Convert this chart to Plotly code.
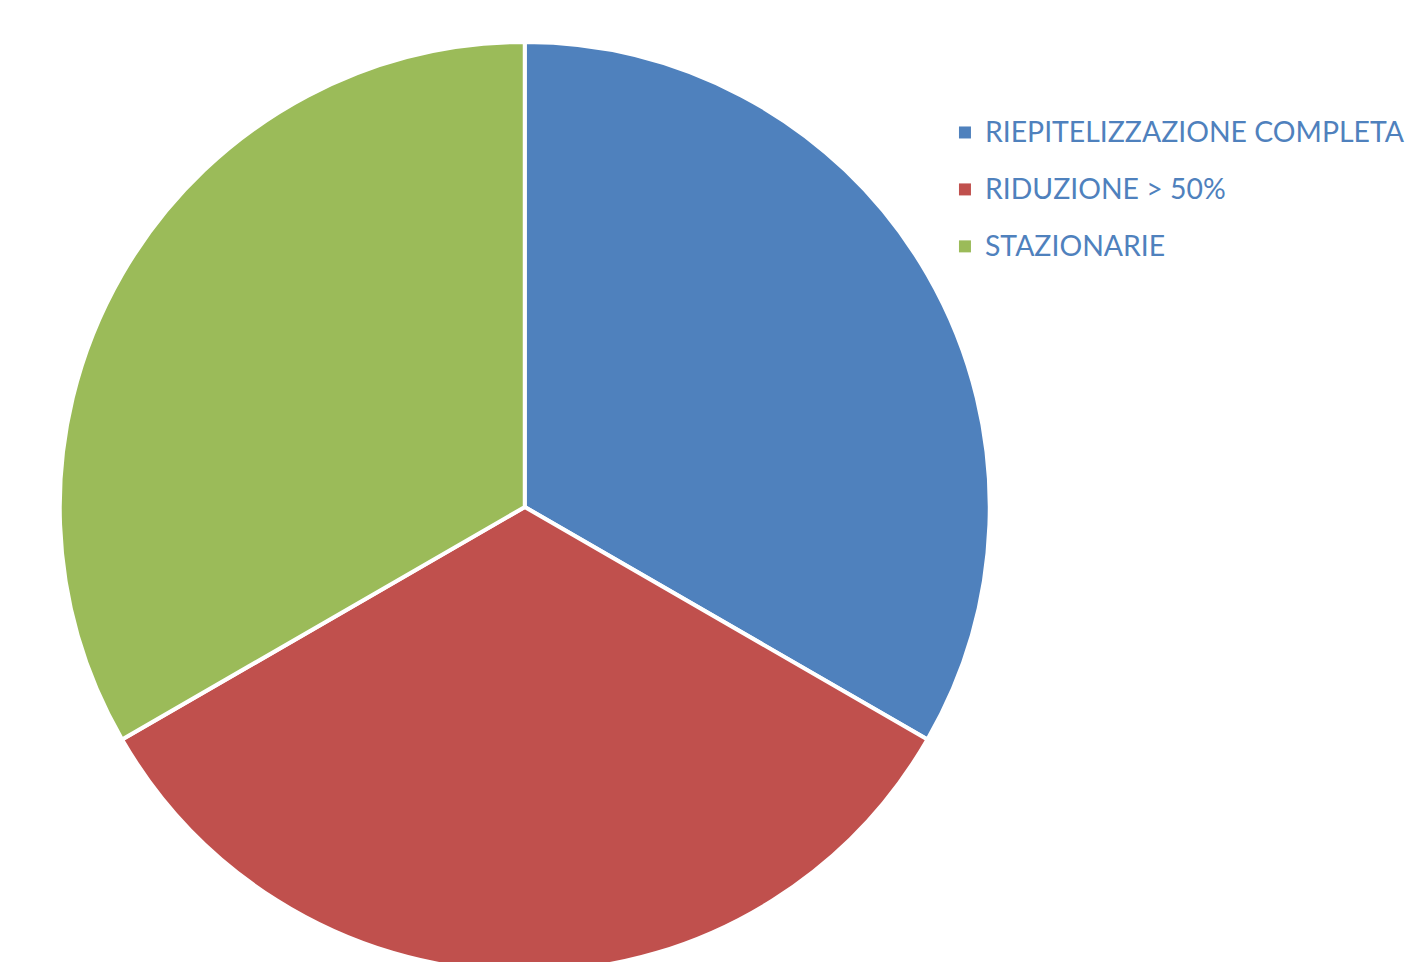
import plotly.graph_objects as go

labels = ["RIEPITELIZZAZIONE COMPLETA", "RIDUZIONE > 50%", "STAZIONARIE"]
values = [1, 1, 1]
colors = ["#4F81BD", "#C0504D", "#9BBB59"]

W, H = 1410, 1014
left, right, top, bottom = 60, 994, 40, 974

# legend text is drawn smaller than the legend font so rows get taller spacing
shown = ["<span style='font-size:28.4px;baseline-shift:7px'>%s</span>" % t for t in labels]

fig = go.Figure(go.Pie(
    labels=shown,
    values=values,
    sort=False,
    direction="clockwise",
    rotation=0,
    textinfo="none",
    hoverinfo="percent",
    marker=dict(colors=colors, line=dict(color="white", width=4)),
    domain=dict(x=[left / W, right / W], y=[1 - bottom / H, 1 - top / H]),
))

fig.update_layout(
    width=W, height=H,
    margin=dict(l=0, r=0, t=0, b=0),
    paper_bgcolor="white",
    plot_bgcolor="white",
    font=dict(family="Lato, 'Open Sans', sans-serif", color="#4F81BD"),
    legend=dict(
        x=949 / W, y=1 - 99 / H, xanchor="left", yanchor="top",
        font=dict(size=41.5, color="#4F81BD"),
        tracegroupgap=0,
    ),
    showlegend=True,
)

post = """
document.documentElement.style.overflow='hidden';
document.body.style.overflow='hidden';
document.body.style.margin='0';
var gd = document.getElementById('{plot_id}');
function fixLegend() {
  gd.querySelectorAll('.legendpoints path').forEach(function(p) {
    p.style.strokeWidth = '0';
  });
}
fixLegend();
setTimeout(fixLegend, 50);
if (gd.on) { gd.on('plotly_afterplot', fixLegend); }
"""

fig.write_html("out.html", post_script=post)
